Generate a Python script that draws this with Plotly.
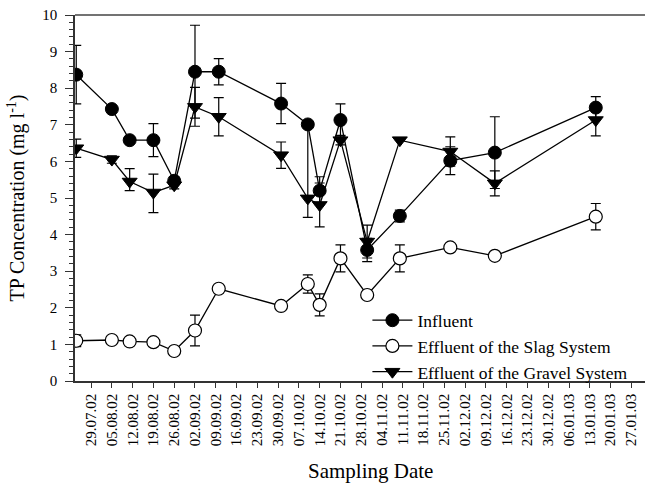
import plotly.graph_objects as go

# ---- data ----
dates = ["2002-07-24", "2002-08-05", "2002-08-11", "2002-08-19", "2002-08-26",
         "2002-09-02", "2002-09-10", "2002-10-01", "2002-10-10", "2002-10-14",
         "2002-10-21", "2002-10-30", "2002-11-10", "2002-11-27", "2002-12-12",
         "2003-01-15"]

influent = [8.37, 7.43, 6.58, 6.58, 5.47, 8.45, 8.45, 7.58, 7.01, 5.20,
            7.13, 3.58, 4.51, 6.02, 6.24, 7.47]
influent_err = [0.80, 0.08, 0.0, 0.45, 0.10, 1.27, 0.36, 0.55, 0.0, 0.38,
                0.44, 0.32, 0.16, 0.38, 0.98, 0.30]

slag = [1.10, 1.12, 1.08, 1.06, 0.82, 1.38, 2.52, 2.05, 2.65, 2.08,
        3.35, 2.35, 3.35, 3.65, 3.42, 4.49]
slag_err = [0.16, 0.0, 0.05, 0.05, 0.0, 0.42, 0.07, 0.0, 0.25, 0.30,
            0.37, 0.0, 0.37, 0.10, 0.0, 0.36]

gravel = [6.36, 6.05, 5.45, 5.15, 5.35, 7.49, 7.22, 6.17, 4.99, 4.81,
          6.58, 3.81, 6.58, 6.27, 5.40, 7.13]
gravel_err_plus = [0.25, 0.10, 0.35, 0.50, 0.10, 0.53, 0.52, 0.36, 2.02, 0.60,
                   0.13, 0.45, 0.0, 0.40, 0.34, 0.43]
gravel_err_minus = [0.25, 0.10, 0.25, 0.55, 0.10, 0.53, 0.52, 0.36, 0.52, 0.60,
                    0.13, 0.45, 0.0, 0.40, 0.34, 0.43]

tick_dates = ["2002-07-29", "2002-08-05", "2002-08-12", "2002-08-19", "2002-08-26",
              "2002-09-02", "2002-09-09", "2002-09-16", "2002-09-23", "2002-09-30",
              "2002-10-07", "2002-10-14", "2002-10-21", "2002-10-28", "2002-11-04",
              "2002-11-11", "2002-11-18", "2002-11-25", "2002-12-02", "2002-12-09",
              "2002-12-16", "2002-12-23", "2002-12-30", "2003-01-06", "2003-01-13",
              "2003-01-20", "2003-01-27"]
tick_labels = ["29.07.02", "05.08.02", "12.08.02", "19.08.02", "26.08.02",
               "02.09.02", "09.09.02", "16.09.02", "23.09.02", "30.09.02",
               "07.10.02", "14.10.02", "21.10.02", "28.10.02", "04.11.02",
               "11.11.02", "18.11.02", "25.11.02", "02.12.02", "09.12.02",
               "16.12.02", "23.12.02", "30.12.02", "06.01.03", "13.01.03",
               "20.01.03", "27.01.03"]

FONT = "Liberation Serif"
LINE = dict(color="black", width=1.3)
ERR = dict(color="black", thickness=1.2, width=5)

fig = go.Figure()
fig.add_trace(go.Scatter(
    x=dates, y=influent, name="Influent", mode="lines+markers",
    line=LINE,
    marker=dict(symbol="circle", size=13, color="black", line=dict(color="black", width=1)),
    error_y=dict(type="data", array=influent_err, visible=True, **ERR),
))
fig.add_trace(go.Scatter(
    x=dates, y=slag, name="Effluent of the Slag System", mode="lines+markers",
    line=LINE,
    marker=dict(symbol="circle", size=13, color="white", line=dict(color="black", width=1.2)),
    error_y=dict(type="data", array=slag_err, visible=True, **ERR),
))
fig.add_trace(go.Scatter(
    x=dates, y=gravel, name="Effluent of the Gravel System", mode="lines+markers",
    line=LINE,
    marker=dict(symbol="triangle-down", size=13, color="black", line=dict(color="black", width=1)),
    error_y=dict(type="data", symmetric=False, array=gravel_err_plus,
                 arrayminus=gravel_err_minus, visible=True, **ERR),
))

fig.add_shape(type="line", xref="paper", yref="paper", x0=0, x1=1, y0=1, y1=1,
              line=dict(color="#444", width=1.5))

fig.add_annotation(text="Sampling Date", xref="paper", yref="paper",
                   x=0.519, y=-0.245, xanchor="center", yanchor="middle",
                   showarrow=False, font=dict(family=FONT, size=21, color="black"))

fig.update_layout(
    width=645, height=487,
    margin=dict(l=75, r=0, t=15, b=106),
    paper_bgcolor="white", plot_bgcolor="white",
    font=dict(family=FONT, color="black", size=15),
    showlegend=True,
    legend=dict(x=0.513, y=0.215, xanchor="left", yanchor="top",
                bgcolor="rgba(0,0,0,0)", font=dict(family=FONT, size=17.5),
                itemwidth=40, tracegroupgap=0),
    xaxis=dict(
        type="date",
        range=["2002-07-23 14:00", "2003-01-31 14:00"],
        tickmode="array", tickvals=tick_dates, ticktext=tick_labels,
        tickangle=-90, tickfont=dict(family=FONT, size=15),
        ticks="outside", ticklen=5, tickcolor="#333", tickwidth=1.2,
        showline=True, linecolor="#333", linewidth=1.5,
        showgrid=False, zeroline=False,
    ),
    yaxis=dict(
        range=[0, 10], tickmode="linear", tick0=0, dtick=1,
        tickfont=dict(family=FONT, size=15),
        ticks="outside", ticklen=8, tickcolor="#333", tickwidth=1.2,
        ticklabelstandoff=5,
        minor=dict(dtick=0.2, ticks="outside", ticklen=4, tickcolor="#333", tickwidth=1),
        showline=True, linecolor="#333", linewidth=1.5,
        showgrid=False, zeroline=False,
        title=dict(text="TP Concentration (mg l<sup>-1</sup>)", font=dict(family=FONT, size=20), standoff=12),
    ),
)

fig.write_html("out.html", config={"displayModeBar": False},
               post_script="document.body.style.margin='0';document.body.style.overflow='hidden';")
